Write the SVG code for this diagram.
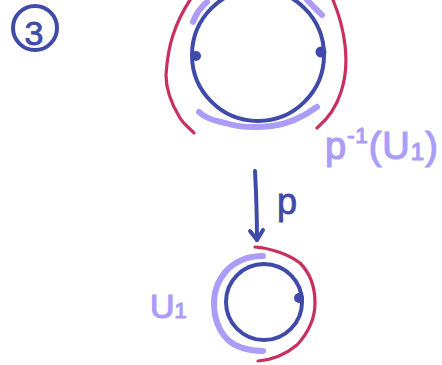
<svg xmlns="http://www.w3.org/2000/svg" width="442" height="365" viewBox="0 0 442 365">
<style>
.blue{fill:none;stroke:#3f4aa9;stroke-width:4;stroke-linecap:round;stroke-linejoin:round}
.red{fill:none;stroke:#c8305e;stroke-width:3.2;stroke-linecap:round;stroke-linejoin:round}
.lav{fill:none;stroke:#aa9cf7;stroke-width:6;stroke-linecap:round;stroke-linejoin:round}
.dot{fill:#3f4aa9}
.lavtxt{fill:#aa9cf7;stroke:#aa9cf7;stroke-width:1.2;font-family:"Liberation Sans","DejaVu Sans",sans-serif}
.bluetxt{fill:#3f4aa9;stroke:#3f4aa9;stroke-width:0.8;font-family:"Liberation Sans","DejaVu Sans",sans-serif}
</style>
<rect width="442" height="365" fill="#ffffff"/>
<g id="step-3">
  <ellipse cx="35" cy="28" rx="22" ry="22" class="blue" stroke-width="3.5"/>
  <text x="34" y="45" font-size="34" text-anchor="middle" class="bluetxt">3</text>
</g>
<g id="cover-space">
  <path class="red" d="M190,0 C186,6 178,20 173,35 C169,47 167,60 166,75 C166,90 172,105 180,118 C185,126 190,128 194,133"/>
  <path class="red" d="M333,0 C338,12 343,28 345,45 C347,62 345,80 341,92 C337,105 330,117 317,128"/>
  <path class="lav" d="M193,22 C196,14 201,7 207,2"/>
  <path class="lav" d="M307,0 C311,4 317,10 322,15"/>
  <path class="lav" d="M199,112 C205,118 215,121 225,123 C238,127 255,128 272,126 C288,124 303,117 317,107"/>
  <circle cx="258" cy="55" r="66" class="blue"/>
  <circle cx="196" cy="56" r="5" class="dot"/>
  <circle cx="321" cy="52" r="5.5" class="dot"/>
</g>
<g id="label-preimage">
  <text x="325" y="159" font-size="38" letter-spacing="1" class="lavtxt">p<tspan font-size="22" dy="-16">-1</tspan><tspan font-size="38" dy="16">(U</tspan><tspan font-size="24" dy="1">1</tspan><tspan font-size="38" dy="-1">)</tspan></text>
</g>
<g id="connectors">
  <path class="blue" stroke-width="3.5" d="M255,171 C256,190 257,215 257,240"/>
  <path class="blue" stroke-width="3.5" d="M250,231 L257,240 L263,230"/>
</g>
<g id="label-p">
  <text x="277" y="214" font-size="36" class="bluetxt">p</text>
</g>
<g id="base-space">
  <path class="red" d="M255,247 C270,248 288,254 300,263 C310,273 315,288 315,303 C315,318 308,333 297,345 C285,355 270,360 258,361"/>
  <path class="lav" d="M263,256 C248,256 236,261 227,270 C218,280 214,292 214,303 C214,316 218,330 228,340 C237,348 250,351 263,351"/>
  <circle cx="264" cy="302" r="38" class="blue"/>
  <circle cx="299" cy="298" r="5" class="dot"/>
</g>
<g id="label-U1">
  <text x="150" y="318" font-size="34" class="lavtxt">U<tspan font-size="22" dy="0">1</tspan></text>
</g>
</svg>
